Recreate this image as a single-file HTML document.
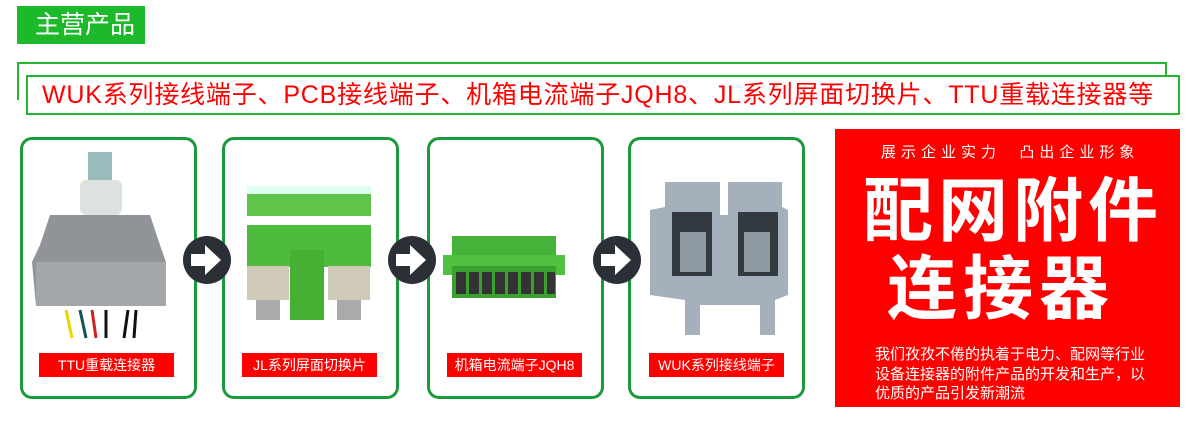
<!DOCTYPE html>
<html><head><meta charset="utf-8"><style>
*{margin:0;padding:0;box-sizing:border-box}
body{width:1200px;height:422px;background:#fff;position:relative;overflow:hidden;font-family:"Liberation Sans","Noto Sans CJK SC",sans-serif}
.a{position:absolute}
.tab{left:17px;top:6px;width:128px;height:38px;background:#1cb92a;color:#fff;font-size:25px;line-height:38px;padding-left:18px}
.card{border:3px solid #1a9a3a;border-radius:12px;top:137px;height:262px;width:177px;background:#fff}
.lbl{background:#f00;color:#fff;font-size:14px;height:24px;line-height:24px;text-align:center;top:353px;width:135px}
.red{left:835px;top:129px;width:345px;height:278px;background:#f00;color:#fff}
</style></head><body>
<div class="a tab">主营产品</div>
<div class="a" style="left:17px;top:62px;width:1150px;height:38px;border:2px solid #22b530;border-bottom:none"></div>
<div class="a" style="left:26px;top:75px;width:1154px;height:40px;border:2px solid #22b530;background:#fff;color:#f00;font-size:25px;letter-spacing:0.8px;line-height:36px;padding-left:14px;white-space:nowrap">WUK系列接线端子、PCB接线端子、机箱电流端子JQH8、JL系列屏面切换片、TTU重载连接器等</div>

<div class="a card" style="left:20px"></div>
<div class="a card" style="left:222px"></div>
<div class="a card" style="left:427px"></div>
<div class="a card" style="left:628px"></div>

<svg class="a" style="left:0;top:0" width="830" height="422">
<rect x="88" y="152" width="24" height="45" fill="#9bb"/>
<rect x="80" y="180" width="42" height="35" rx="6" fill="#dde2de"/>
<path d="M50 215 L150 215 L160 245 L166 262 L160 306 L36 306 L32 262 L40 245 Z" fill="#909498"/>
<rect x="36" y="262" width="130" height="44" fill="#a4a7aa"/>
<g stroke-width="3"><line x1="66" y1="310" x2="72" y2="338" stroke="#e6d800"/><line x1="80" y1="310" x2="86" y2="338" stroke="#155"/><line x1="92" y1="310" x2="96" y2="338" stroke="#c22"/><line x1="106" y1="310" x2="106" y2="338" stroke="#111"/><line x1="128" y1="310" x2="124" y2="338" stroke="#111"/><line x1="136" y1="310" x2="134" y2="338" stroke="#111"/></g>
<rect x="247" y="186" width="124" height="30" fill="#5ec44a"/>
<rect x="247" y="186" width="124" height="8" fill="#dfe"/>
<rect x="247" y="225" width="124" height="42" fill="#4dbb3c"/>
<rect x="290" y="250" width="34" height="70" fill="#45b034"/>
<rect x="247" y="266" width="42" height="34" fill="#cfcab8"/>
<rect x="328" y="266" width="42" height="34" fill="#cfcab8"/>
<rect x="256" y="300" width="24" height="20" fill="#aaa"/>
<rect x="337" y="300" width="24" height="20" fill="#aaa"/>
<rect x="452" y="236" width="104" height="20" fill="#45b33a"/>
<rect x="443" y="255" width="122" height="20" fill="#4fc040"/>
<rect x="452" y="266" width="104" height="32" fill="#3aa030"/>
<g fill="#333"><rect x="456" y="272" width="10" height="22"/><rect x="469" y="272" width="10" height="22"/><rect x="482" y="272" width="10" height="22"/><rect x="495" y="272" width="10" height="22"/><rect x="508" y="272" width="10" height="22"/><rect x="521" y="272" width="10" height="22"/><rect x="534" y="272" width="10" height="22"/><rect x="547" y="272" width="8" height="22"/></g>
<path d="M650 210 L665 207 L665 182 L720 182 L720 215 L728 215 L728 182 L782 182 L782 207 L788 210 L788 295 L775 300 L775 335 L760 335 L760 305 L700 305 L700 335 L685 335 L685 300 L650 295 Z" fill="#a4b0bb"/>
<rect x="672" y="212" width="40" height="64" fill="#333a40"/>
<rect x="738" y="212" width="40" height="64" fill="#333a40"/>
<rect x="680" y="232" width="26" height="40" fill="#8e98a0"/>
<rect x="744" y="232" width="26" height="40" fill="#8e98a0"/>
<g fill="#2b2f36"><circle cx="207" cy="260" r="24"/><circle cx="412" cy="260" r="24"/><circle cx="617" cy="260" r="24"/></g>
<g fill="#fff"><path d="M191 254h14v-9l16 15-16 15v-9h-14z"/><path d="M396 254h14v-9l16 15-16 15v-9h-14z"/><path d="M601 254h14v-9l16 15-16 15v-9h-14z"/></g>
</svg>

<div class="a lbl" style="left:39px">TTU重载连接器</div>
<div class="a lbl" style="left:242px">JL系列屏面切换片</div>
<div class="a lbl" style="left:447px">机箱电流端子JQH8</div>
<div class="a lbl" style="left:649px">WUK系列接线端子</div>

<div class="a red">
<div class="a" style="left:46px;top:12px;font-size:15px;letter-spacing:5px;white-space:nowrap">展示企业实力&nbsp;&nbsp;凸出企业形象</div>
<div class="a" style="left:28px;top:42px;font-size:70px;font-weight:bold;letter-spacing:5px;line-height:80px;white-space:nowrap">配网附件</div>
<div class="a" style="left:52px;top:120px;font-size:70px;font-weight:bold;letter-spacing:6px;line-height:80px;white-space:nowrap">连接器</div>
<div class="a" style="left:40px;top:216px;width:275px;font-size:15px;line-height:19.5px">我们孜孜不倦的执着于电力、配网等行业<br>设备连接器的附件产品的开发和生产，以<br>优质的产品引发新潮流</div>
</div>
</body></html>
